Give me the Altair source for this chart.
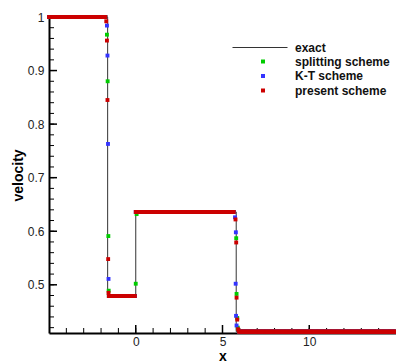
import altair as alt
import numpy as np
import pandas as pd

# ---- exact solution (piecewise constant) ----
exact_x = [-5.0, -1.62, -1.62, 0.0, 0.0, 5.79, 5.79, 15.0]
exact_u = [1.0, 1.0, 0.479, 0.479, 0.636, 0.636, 0.4125, 0.4125]

# ---- plateau levels shared by the numerical schemes (x_start, x_end, value) ----
plateau_x0 = [-5.0, -1.55, 0.05, 5.95]
plateau_x1 = [-1.75, -0.05, 5.65, 15.0]
plateau_u = [1.0, 0.479, 0.636, 0.4125]
grid_dx = 0.05

# ---- transition points ----
split_x = [-1.66, -1.62, -1.58, -1.56, 0.0, 0.05, 5.79, 5.81, 5.85, 5.88]
split_u = [0.967, 0.880, 0.591, 0.489, 0.502, 0.632, 0.587, 0.483, 0.438, 0.420]
kt_x = [-1.66, -1.63, -1.60, -1.57, 0.0, 5.72, 5.77, 5.76, 5.78, 5.81]
kt_u = [0.984, 0.928, 0.763, 0.511, 0.636, 0.626, 0.598, 0.502, 0.442, 0.424]
present_x = [-1.70, -1.66, -1.63, -1.59, -1.57, 0.0, 5.75, 5.79, 5.81, 5.85, 5.90]
present_u = [0.992, 0.956, 0.845, 0.548, 0.485, 0.636, 0.622, 0.579, 0.476, 0.435, 0.417]

schemes = ["splitting scheme", "K-T scheme", "present scheme"]
scheme_colors = ["#00cc00", "#3333ff", "#cc0000"]

# ticks
y_major = [0.5, 0.6, 0.7, 0.8, 0.9, 1.0]
y_minor = [round(0.42 + 0.02 * i, 2) for i in range(30)]
x_major = [0, 5, 10]
x_minor = list(range(-4, 15))

# ---- build tables ----
exact_df = pd.DataFrame({"x": exact_x, "u": exact_u, "series": "exact"})

rows = []
for name, tx, tu in [("splitting scheme", split_x, split_u),
                     ("K-T scheme", kt_x, kt_u),
                     ("present scheme", present_x, present_u)]:
    for x0, x1, u in zip(plateau_x0, plateau_x1, plateau_u):
        n = int(round((x1 - x0) / grid_dx)) + 1
        for k in range(n):
            rows.append({"x": round(x0 + k * grid_dx, 3), "u": u, "scheme": name})
    for x, u in zip(tx, tu):
        rows.append({"x": x, "u": u, "scheme": name})
pts_df = pd.DataFrame(rows)

W, H = 347, 316
xs = alt.Scale(domain=[-5, 15], nice=False, zero=False)
ys = alt.Scale(domain=[0.41, 1.0], nice=False, zero=False)

FONT = "Liberation Sans"

x_axis = alt.Axis(values=x_major, ticks=False, tickSize=0, grid=False,
                  domainColor="black", domainWidth=2,
                  labelFont=FONT, labelFontSize=12, labelColor="#222", labelPadding=3,
                  title="x", titleFont=FONT, titleFontSize=14, titleFontWeight="bold",
                  titleColor="black", titleY=27, titleBaseline="alphabetic")
y_axis = alt.Axis(values=y_major, format="~g", ticks=False, tickSize=0, grid=False,
                  domainColor="black", domainWidth=2,
                  labelFont=FONT, labelFontSize=12, labelColor="#222", labelPadding=5,
                  title="velocity", titleFont=FONT, titleFontSize=14, titleFontWeight="bold",
                  titleColor="black", titleX=-31, titleY=H / 2, titleAngle=270,
                  titleAlign="center", titleBaseline="middle")

line = alt.Chart(exact_df).mark_line(strokeWidth=1, clip=False).encode(
    x=alt.X("x:Q", scale=xs, axis=x_axis),
    y=alt.Y("u:Q", scale=ys, axis=y_axis),
    stroke=alt.Stroke("series:N", scale=alt.Scale(domain=["exact"], range=["#333333"]),
                      legend=alt.Legend(orient="none", legendX=183, legendY=2.5, title=None,
                                        symbolType="stroke", symbolSize=3025,
                                        symbolStrokeWidth=1, padding=0,
                                        labelFont=FONT, labelFontSize=12,
                                        labelFontWeight="bold", labelColor="#111",
                                        labelOffset=7)),
    order=alt.Order("idx:Q"),
).transform_window(idx="row_number()")

points = alt.Chart(pts_df).mark_square(size=15, opacity=1, clip=False).encode(
    x=alt.X("x:Q", scale=xs),
    y=alt.Y("u:Q", scale=ys),
    color=alt.Color("scheme:N", scale=alt.Scale(domain=schemes, range=scheme_colors),
                    legend=alt.Legend(orient="none", legendX=208, legendY=38.5, title=None,
                                      symbolType="square", symbolSize=16, padding=0,
                                      symbolStrokeWidth=0, symbolOpacity=1,
                                      rowPadding=2.5,
                                      labelFont=FONT, labelFontSize=12,
                                      labelFontWeight="bold", labelColor="#111",
                                      labelOffset=26)),
)

y_major_df = pd.DataFrame({"v": y_major})
y_minor_df = pd.DataFrame({"v": y_minor})
x_major_df = pd.DataFrame({"v": x_major})
x_minor_df = pd.DataFrame({"v": x_minor})

ytick_major = alt.Chart(y_major_df).mark_rule(color="black", strokeWidth=1.5).encode(
    y=alt.Y("v:Q", scale=ys), x=alt.value(0), x2=alt.value(8))
ytick_minor = alt.Chart(y_minor_df).mark_rule(color="black", strokeWidth=1).encode(
    y=alt.Y("v:Q", scale=ys), x=alt.value(0), x2=alt.value(5))
xtick_major = alt.Chart(x_major_df).mark_rule(color="black", strokeWidth=1.5).encode(
    x=alt.X("v:Q", scale=xs), y=alt.value(H), y2=alt.value(H - 8))
xtick_minor = alt.Chart(x_minor_df).mark_rule(color="black", strokeWidth=1).encode(
    x=alt.X("v:Q", scale=xs), y=alt.value(H), y2=alt.value(H - 5))

chart = alt.layer(
    ytick_minor, ytick_major, xtick_minor, xtick_major, line, points
).resolve_legend(color="independent", stroke="independent").properties(
    width=W, height=H,
    autosize=alt.AutoSizeParams(type="none"),
    padding={"left": 49, "top": 17, "right": 0, "bottom": 29},
    background="white",
).configure_view(stroke=None)

chart.save("out.html", embed_options={"renderer": "svg", "actions": False})
